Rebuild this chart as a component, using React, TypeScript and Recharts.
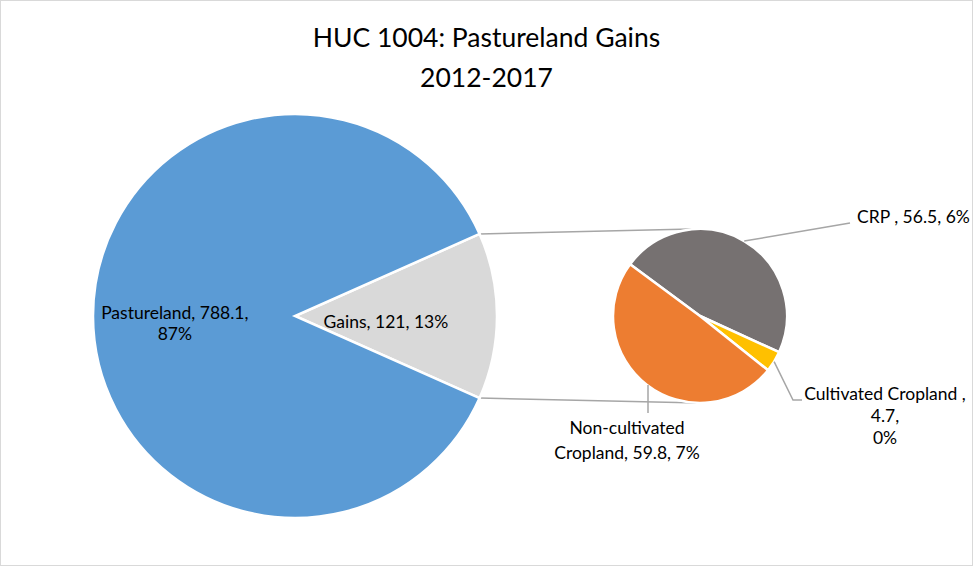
import { PieChart, Pie, Cell, Customized } from "recharts";

// Primary pie: pastureland vs. the gains that get broken out
const mainNames = ["Gains", "Pastureland"];
const mainValues = [121, 788.1];
const mainPct = ["13%", "87%"];

// Secondary pie: what the gains came from
const subNames = ["CRP ", "Cultivated Cropland ", "Non-cultivated Cropland"];
const subValues = [56.5, 4.7, 59.8];
const subPct = ["6%", "0%", "7%"];

const mainColors = ["#D9D9D9", "#5B9BD5"];
const subColors = ["#767171", "#FFC000", "#ED7D31"];

const W = 973;
const H = 566;
const FONT = "Lato, 'Open Sans', sans-serif";
const LABEL_SIZE = 17.5;

// geometry of the two pies
const MAIN = { cx: 295, cy: 316, r: 202 };
const SUB = { cx: 700, cy: 316, r: 87 };
const SUB_START = 143.5;

const mainData = mainNames.map((name, i) => ({ name, value: mainValues[i] }));
const subData = subNames.map((name, i) => ({ name, value: subValues[i] }));
const mainTotal = mainValues.reduce((a, b) => a + b, 0);
const gainsSweep = (360 * mainValues[0]) / mainTotal;

const RAD = Math.PI / 180;
const LEADER = "#A6A6A6";

function MainLabel(props: any) {
  const { cx, cy, midAngle, outerRadius, index } = props;
  const k = index === 0 ? 0.45 : 0.595;
  const x = cx + outerRadius * k * Math.cos(-midAngle * RAD);
  const y = cy - outerRadius * k * Math.sin(midAngle * RAD);
  const lines =
    index === 0
      ? [`${mainNames[0]}, ${mainValues[0]}, ${mainPct[0]}`]
      : [`${mainNames[1]}, ${mainValues[1]},`, mainPct[1]];
  const y0 = index === 0 ? y + 12 : y + 3;
  return (
    <text x={x} y={y0} textAnchor="middle" fontFamily={FONT} fontSize={LABEL_SIZE} fill="#000">
      {lines.map((l, i) => (
        <tspan key={i} x={x} y={y0 + i * 21}>
          {l}
        </tspan>
      ))}
    </text>
  );
}

// label placement around the secondary pie (offsets from its centre)
const subLayout = [
  { path: [[150, -93]], tx: 157, anchor: "start", ty: [-93], lines: (i: number) => [`${subNames[i]}, ${subValues[i]}, ${subPct[i]}`] },
  {
    path: [[93, 84], [102, 84]],
    tx: 185,
    anchor: "middle",
    ty: [84, 106, 128],
    lines: (i: number) => [`${subNames[i]},`, `${subValues[i]},`, subPct[i]],
  },
  {
    path: [[-52, 97]],
    tx: -73,
    anchor: "middle",
    ty: [118, 143],
    lines: (i: number) => ["Non-cultivated", `Cropland, ${subValues[i]}, ${subPct[i]}`],
  },
];

function SubLabel(props: any) {
  const { cx, cy, midAngle, outerRadius, index } = props;
  const lay = subLayout[index];
  const sx = cx + outerRadius * Math.cos(-midAngle * RAD);
  const sy = cy - outerRadius * Math.sin(midAngle * RAD);
  let pts = `${sx},${sy}`;
  lay.path.forEach(([dx, dy]) => {
    pts += ` ${cx + dx},${cy + dy}`;
  });
  if (index === 2) pts = `${cx - 52},${sy} ${cx - 52},${cy + 97}`;
  const lines = lay.lines(index);
  return (
    <g>
      <polyline points={pts} fill="none" stroke={LEADER} strokeWidth={1.5} />
      <text textAnchor={lay.anchor as any} fontFamily={FONT} fontSize={LABEL_SIZE} fill="#000">
        {lines.map((l, i) => (
          <tspan key={i} x={cx + lay.tx} y={cy + lay.ty[i]}>
            {l}
          </tspan>
        ))}
      </text>
    </g>
  );
}

// frame, title and the connectors between the gains slice and the secondary pie
function Decor() {
  const a = (gainsSweep / 2) * RAD;
  const ex = MAIN.cx + MAIN.r * Math.cos(a);
  const eyTop = MAIN.cy - MAIN.r * Math.sin(a);
  const eyBot = MAIN.cy + MAIN.r * Math.sin(a);
  return (
    <g>
      <rect x={0.5} y={0.5} width={W - 1} height={H - 1} fill="none" stroke="#D9D9D9" />
      <line x1={ex} y1={eyTop} x2={SUB.cx - 8} y2={SUB.cy - SUB.r} stroke={LEADER} strokeWidth={1.5} />
      <line x1={ex} y1={eyBot} x2={SUB.cx} y2={SUB.cy + SUB.r} stroke={LEADER} strokeWidth={1.5} />
      <text x={W / 2} y={47} textAnchor="middle" fontFamily={FONT} fontSize={26.5} fill="#000">
        HUC 1004: Pastureland Gains
      </text>
      <text x={W / 2} y={87} textAnchor="middle" fontFamily={FONT} fontSize={26.5} fill="#000">
        2012-2017
      </text>
    </g>
  );
}

export default function App() {
  return (
    <div style={{ width: W, height: H, background: "#fff" }}>
      <style>{"body{margin:0}"}</style>
      <PieChart width={W} height={H} margin={{ top: 0, right: 0, bottom: 0, left: 0 }}>
        <Customized component={Decor} />
        <Pie
          data={mainData}
          dataKey="value"
          nameKey="name"
          cx={MAIN.cx}
          cy={MAIN.cy}
          outerRadius={MAIN.r}
          startAngle={gainsSweep / 2}
          endAngle={gainsSweep / 2 - 360}
          stroke="#fff"
          strokeWidth={2.5}
          label={MainLabel}
          labelLine={false}
          isAnimationActive={false}
        >
          {mainData.map((d, i) => (
            <Cell key={d.name} fill={mainColors[i]} />
          ))}
        </Pie>
        <Pie
          data={subData}
          dataKey="value"
          nameKey="name"
          cx={SUB.cx}
          cy={SUB.cy}
          outerRadius={SUB.r}
          startAngle={SUB_START}
          endAngle={SUB_START - 360}
          stroke="#fff"
          strokeWidth={2.5}
          label={SubLabel}
          labelLine={false}
          isAnimationActive={false}
        >
          {subData.map((d, i) => (
            <Cell key={d.name} fill={subColors[i]} />
          ))}
        </Pie>
      </PieChart>
    </div>
  );
}
